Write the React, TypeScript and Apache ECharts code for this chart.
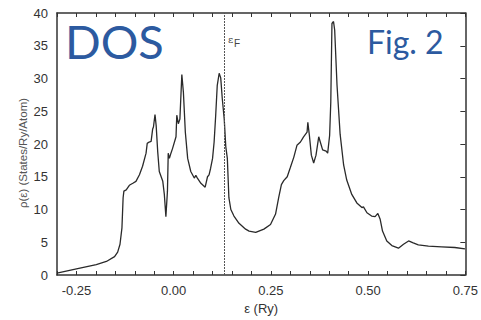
import React, { useEffect, useRef } from "react";
import * as echarts from "echarts";

const energy = [
  -0.3, -0.25, -0.199, -0.173, -0.152, -0.144, -0.138, -0.133, -0.13, -0.128,
  -0.122, -0.114, -0.105, -0.097, -0.088, -0.08, -0.071, -0.068, -0.063, -0.058,
  -0.054, -0.052, -0.048, -0.045, -0.041, -0.037, -0.028, -0.024, -0.02, -0.016,
  -0.014, -0.011, -0.007, -0.003, 0.006, 0.008, 0.012, 0.016, 0.021, 0.025,
  0.03, 0.036, 0.044, 0.053, 0.057, 0.061, 0.07, 0.081, 0.087, 0.091,
  0.095, 0.1, 0.104, 0.108, 0.112, 0.117, 0.121, 0.125, 0.13, 0.134,
  0.138, 0.142, 0.147, 0.155, 0.168, 0.185, 0.194, 0.211, 0.232, 0.249,
  0.262, 0.27, 0.277, 0.283, 0.292, 0.3, 0.309, 0.317, 0.326, 0.334,
  0.343, 0.345, 0.349, 0.354, 0.36, 0.366, 0.373, 0.377, 0.383, 0.392,
  0.396, 0.401, 0.404, 0.407, 0.411, 0.414, 0.42, 0.428, 0.437, 0.445,
  0.458, 0.471, 0.484, 0.488, 0.497, 0.509, 0.518, 0.525, 0.531, 0.537,
  0.548, 0.561, 0.578, 0.591, 0.604, 0.616, 0.629, 0.655, 0.689, 0.723, 0.749,
];

const dos = [
  0.3, 0.95, 1.6, 2.07, 2.8, 3.5, 4.7, 7.2, 11.8, 12.8,
  13.0, 13.7, 14.0, 14.3, 15.3, 16.6, 18.6, 20.1, 20.3, 20.4,
  22.3, 22.6, 24.5, 22.8, 18.8, 15.8, 14.3, 12.3, 8.9, 12.8,
  18.6, 17.8, 18.6, 19.3, 21.1, 24.4, 23.1, 23.8, 30.6, 27.9,
  21.8, 17.8, 15.8, 14.8, 15.2, 14.8, 14.0, 13.4, 15.0, 15.3,
  16.3, 17.8, 20.3, 24.3, 28.9, 30.8, 30.1, 26.9, 23.8, 19.6,
  17.8, 11.8, 10.0, 9.0, 7.9, 7.0, 6.7, 6.5, 7.0, 7.7,
  9.3, 11.8, 13.8, 14.4, 15.0, 16.4, 18.0, 19.8, 20.3, 21.1,
  21.8, 23.3, 21.3, 18.3, 17.1, 18.3, 21.1, 20.3, 19.1, 18.9,
  18.6, 21.3, 26.4, 38.4, 38.7, 37.4, 29.0, 21.5, 16.8, 14.5,
  12.3, 11.0, 10.3, 10.4, 9.5, 9.0, 8.9, 9.4, 8.5, 6.7,
  5.2, 4.5, 4.1, 4.7, 5.2, 4.9, 4.6, 4.4, 4.3, 4.2, 4.0,
];

const xTickLabels = ["-0.25", "0.00", "0.25", "0.50", "0.75"];
const yTickLabels = ["0", "5", "10", "15", "20", "25", "30", "35", "40"];
const fermiEnergy = 0.127;

const xAxisTitle = "ε (Ry)";
const yAxisTitle = "ρ(ε) (States/Ry/Atom)";

export default function App() {
  const ref = useRef<HTMLDivElement>(null);
  useEffect(() => {
    if (!ref.current) return;
    const chart = echarts.init(ref.current, undefined, { renderer: "svg" });
    const axisLine = { show: true, onZero: false, lineStyle: { color: "#333", width: 1.5 } };
    const fmtX = (v: number) => {
      const s = (Math.abs(v) < 1e-9 ? 0 : v).toFixed(2);
      return xTickLabels.includes(s) ? s : "";
    };
    const fmtY = (v: number) => {
      const s = String(Math.round(v));
      return yTickLabels.includes(s) ? s : "";
    };
    const font = "Liberation Sans, Arial, sans-serif";
    chart.setOption({
      animation: false,
      backgroundColor: "#ffffff",
      grid: { left: 57, right: 13, top: 13, bottom: 42 },
      xAxis: [
        {
          type: "value",
          min: -0.3,
          max: 0.75,
          interval: 0.05,
          position: "bottom",
          axisLine,
          axisTick: { show: true, inside: true, length: 4, lineStyle: { color: "#333", width: 1 } },
          axisLabel: {
            formatter: fmtX,
            color: "#333",
            fontSize: 13,
            fontFamily: font,
            margin: 9,
            showMinLabel: true,
            showMaxLabel: true,
          },
          splitLine: { show: false },
          name: xAxisTitle,
          nameLocation: "middle",
          nameGap: 27,
          nameTextStyle: { color: "#333", fontSize: 13, fontFamily: font },
        },
        {
          type: "value",
          min: -0.3,
          max: 0.75,
          interval: 0.05,
          position: "top",
          axisLine,
          axisTick: { show: true, inside: true, length: 4, lineStyle: { color: "#333", width: 1 } },
          axisLabel: { show: false },
          splitLine: { show: false },
        },
      ],
      yAxis: [
        {
          type: "value",
          min: 0,
          max: 40,
          interval: 5,
          position: "left",
          axisLine,
          axisTick: { show: false },
          axisLabel: {
            formatter: fmtY,
            color: "#333",
            fontSize: 13,
            fontFamily: font,
            margin: 9,
          },
          splitLine: { show: false },
        },
        {
          type: "value",
          min: 0,
          max: 40,
          interval: 5,
          position: "right",
          axisLine,
          axisTick: { show: true, inside: true, length: 5, lineStyle: { color: "#333", width: 1 } },
          axisLabel: { show: false },
          splitLine: { show: false },
        },
      ],
      series: [
        {
          type: "line",
          data: energy.map((e, i) => [e, dos[i]]),
          showSymbol: false,
          symbol: "none",
          lineStyle: { color: "#2a2a2a", width: 1.3 },
          markLine: {
            silent: true,
            symbol: "none",
            label: { show: false },
            lineStyle: { color: "#555", width: 1, type: [2, 1] },
            data: [{ xAxis: fermiEnergy }],
          },
        },
      ],
      graphic: [
        {
          type: "text",
          x: 23,
          y: 153,
          rotation: Math.PI / 2,
          style: {
            text: yAxisTitle,
            fill: "#555",
            fontSize: 11.5,
            fontFamily: font,
            align: "center",
            verticalAlign: "middle",
          },
        },
        {
          type: "text",
          x: 228,
          y: 39,
          style: {
            text: "ε",
            fill: "#444",
            fontSize: 10,
            fontFamily: "DejaVu Serif, serif",
            verticalAlign: "middle",
          },
        },
        {
          type: "text",
          x: 234,
          y: 43,
          style: {
            text: "F",
            fill: "#444",
            fontSize: 10,
            fontFamily: font,
            verticalAlign: "middle",
          },
        },
        {
          type: "text",
          x: 65,
          y: 17,
          style: {
            text: "DOS",
            fill: "#2c5aa0",
            fontSize: 47,
            fontFamily: "Lato, sans-serif",
            verticalAlign: "top",
          },
        },
        {
          type: "text",
          x: 367,
          y: 25,
          style: {
            text: "Fig. 2",
            fill: "#2c5aa0",
            fontSize: 32,
            fontFamily: "Lato, sans-serif",
            verticalAlign: "top",
          },
        },
      ],
    });
    return () => chart.dispose();
  }, []);
  return (
    <div
      ref={ref}
      style={{ position: "fixed", left: 0, top: 0, width: 481, height: 320 }}
    />
  );
}
